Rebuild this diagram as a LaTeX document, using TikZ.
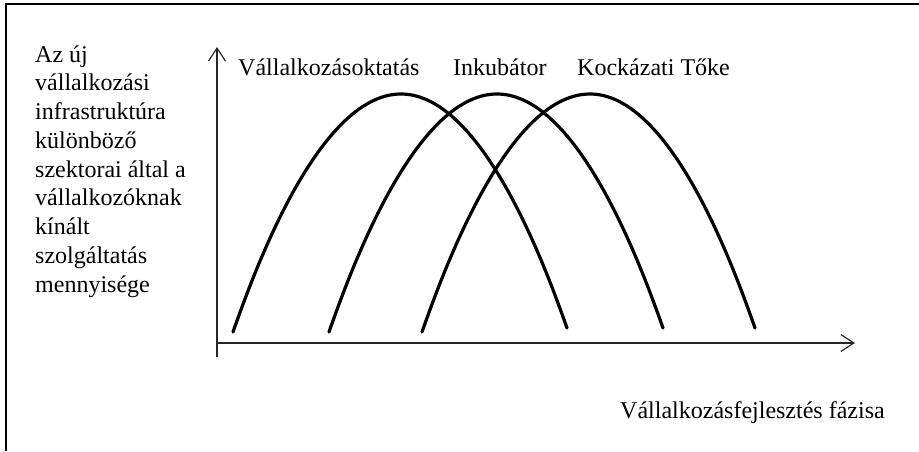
\documentclass[tikz,border=0pt]{standalone}
\usepackage{fontspec}
\setmainfont{Liberation Serif}
\usetikzlibrary{arrows.meta}
\begin{document}
\begin{tikzpicture}[x=1pt,y=-1pt,
  frameline/.style={line width=1.6pt,black},
  axisline/.style={line width=1.3pt,black!85,-{Straight Barb[length=13pt,width=17pt,line width=1.2pt]}},
  hump/.style={line width=3.2pt,black,line cap=round},
  lbl/.style={inner sep=0pt,anchor=base west,font=\fontsize{24}{28.75}\selectfont}]
\useasboundingbox (0,0) rectangle (919,451);
% frame (partial)
\draw[frameline] (6,451) -- (6,4) -- (919,4);
% axes
\coordinate (orig) at (217,343);
\coordinate (ybot) at (217,357);
\coordinate (ytop) at (217,47);
\coordinate (xend) at (855,343);
\draw[axisline] (ybot) -- (ytop);
\draw[axisline] (orig) -- (xend);
% humps
\draw[hump] (233,332) parabola bend (401,94) (567,328);
\draw[hump] (329,332) parabola bend (497,94) (663,328);
\draw[hump] (422,332) parabola bend (590,94) (755,328);
% labels
\node[lbl] (c1) at (238,75) {Vállalkozásoktatás};
\node[lbl] (c2) at (453,75) {Inkubátor};
\node[lbl] (c3) at (577,75) {Kockázati Tőke};
\node[lbl] (xl) at (620,418) {Vállalkozásfejlesztés fázisa};
\node[lbl] (yl) at (35,62) {\parbox[t]{190pt}{\raggedright\fontsize{24}{28.75}\selectfont
Az új\\ vállalkozási\\ infrastruktúra\\ különböző\\ szektorai által a\\ vállalkozóknak\\ kínált\\ szolgáltatás\\ mennyisége}};
\end{tikzpicture}
\end{document}
